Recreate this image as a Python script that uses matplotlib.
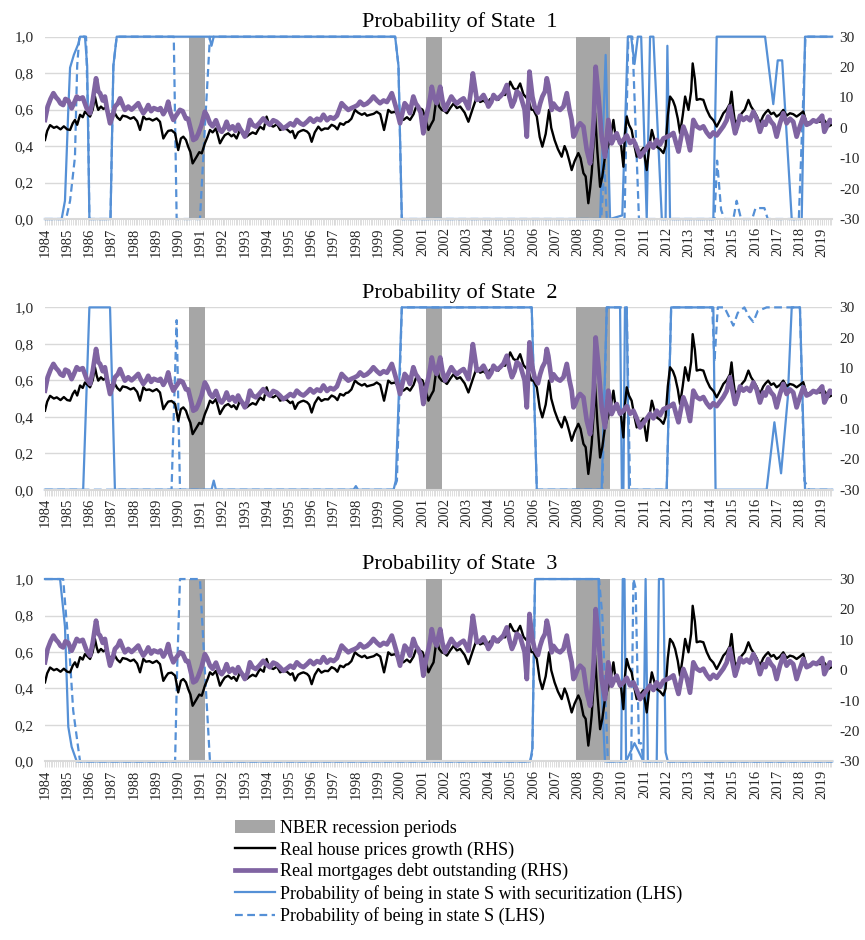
import numpy as np
import matplotlib
matplotlib.use("Agg")
import matplotlib.pyplot as plt
from matplotlib.patches import Patch
from matplotlib.lines import Line2D
from matplotlib.ticker import MultipleLocator

plt.rcParams['font.family'] = ['Liberation Serif', 'DejaVu Serif']

# Real house prices growth (RHS)
hp_years = [1984.00, 1984.10, 1984.23, 1984.40, 1984.53, 1984.70, 1984.85, 1985.00, 1985.13, 1985.25,
            1985.35, 1985.45, 1985.58, 1985.70, 1985.80, 1985.92, 1986.03, 1986.15, 1986.25, 1986.33,
            1986.40, 1986.52, 1986.63, 1986.75, 1986.85, 1987.00, 1987.15, 1987.25, 1987.38, 1987.50,
            1987.68, 1987.85, 1988.00, 1988.15, 1988.28, 1988.43, 1988.55, 1988.70, 1988.85, 1989.03,
            1989.18, 1989.33, 1989.45, 1989.55, 1989.70, 1989.86, 1990.00, 1990.12, 1990.23, 1990.35,
            1990.45, 1990.55, 1990.65, 1990.75, 1990.83, 1990.95, 1991.06, 1991.20, 1991.32, 1991.43,
            1991.55, 1991.70, 1991.88, 1992.00, 1992.10, 1992.25, 1992.40, 1992.50, 1992.63, 1992.78,
            1992.90, 1993.08, 1993.20, 1993.35, 1993.50, 1993.68, 1993.85, 1993.98, 1994.10, 1994.28,
            1994.45, 1994.59, 1994.75, 1994.90, 1995.05, 1995.15, 1995.26, 1995.40, 1995.52, 1995.64,
            1995.80, 1995.90, 1996.01, 1996.15, 1996.31, 1996.45, 1996.60, 1996.75, 1996.91, 1997.05,
            1997.17, 1997.29, 1997.45, 1997.55, 1997.66, 1997.80, 1997.96, 1998.10, 1998.27, 1998.40,
            1998.50, 1998.64, 1998.80, 1998.94, 1999.10, 1999.27, 1999.38, 1999.46, 1999.60, 1999.77,
            1999.90, 2000.02, 2000.14, 2000.30, 2000.44, 2000.60, 2000.74, 2000.88, 2001.00, 2001.10,
            2001.27, 2001.38, 2001.50, 2001.64, 2001.75, 2001.87, 2002.00, 2002.10, 2002.25, 2002.40,
            2002.55, 2002.70, 2002.90, 2003.07, 2003.25, 2003.45, 2003.60, 2003.75, 2003.90, 2004.05,
            2004.25, 2004.42, 2004.58, 2004.72, 2004.85, 2004.95, 2005.10, 2005.25, 2005.40, 2005.55,
            2005.77, 2005.90, 2006.00, 2006.15, 2006.28, 2006.40, 2006.55, 2006.70, 2006.80, 2006.95,
            2007.10, 2007.27, 2007.40, 2007.50, 2007.62, 2007.72, 2007.85, 2008.02, 2008.12, 2008.25,
            2008.35, 2008.47, 2008.55, 2008.62, 2008.70, 2008.77, 2008.88, 2009.00, 2009.10, 2009.22,
            2009.35, 2009.45, 2009.60, 2009.70, 2009.82, 2009.95, 2010.05, 2010.12, 2010.20, 2010.30,
            2010.42, 2010.55, 2010.65, 2010.80, 2010.95, 2011.10, 2011.22, 2011.33, 2011.45, 2011.55,
            2011.70, 2011.85, 2011.95, 2012.05, 2012.15, 2012.28, 2012.38, 2012.50, 2012.60, 2012.72,
            2012.83, 2012.98, 2013.10, 2013.17, 2013.27, 2013.35, 2013.50, 2013.65, 2013.80, 2013.95,
            2014.10, 2014.25, 2014.40, 2014.55, 2014.70, 2014.85, 2014.92, 2015.00, 2015.08, 2015.20,
            2015.38, 2015.52, 2015.68, 2015.80, 2015.90, 2016.05, 2016.20, 2016.35, 2016.45, 2016.57,
            2016.70, 2016.82, 2016.95, 2017.10, 2017.25, 2017.40, 2017.55, 2017.70, 2017.85, 2018.00,
            2018.15, 2018.30, 2018.50, 2018.70, 2018.90, 2019.10, 2019.30, 2019.42]
hp_growth = [-4.0, -1.0, 0.9, 0.0, 0.4, -0.5, 0.5, -0.5, -0.7, 1.5,
             2.6, 1.0, 4.3, 3.5, 5.3, 4.5, 3.7, 6.0, 10.3, 7.5,
             5.9, 7.0, 6.2, 6.8, 3.7, 4.5, 4.8, 3.5, 2.6, 4.0,
             3.7, 3.0, 3.5, 2.2, -0.7, 3.7, 2.8, 3.0, 2.4, 3.1,
             2.0, -3.5, -2.0, -1.0, -0.8, -1.8, -7.3, -3.5, -2.9, -4.0,
             -6.2, -8.0, -11.7, -10.5, -9.5, -8.0, -8.4, -5.1, -3.0, -0.7,
             -1.5, -0.2, -5.1, -3.5, -2.4, -1.8, -2.8, -2.2, -3.5, -0.7,
             -2.0, -2.9, -2.2, -1.5, -2.0, 0.4, -0.5, 3.7, 1.0, 0.4,
             1.2, -0.7, -0.2, -0.5, -1.5, -1.0, -3.4, -1.5, -1.0, -0.7,
             -1.2, -2.0, -4.6, -1.5, 0.4, -0.8, -0.2, -0.3, 1.0, 0.5,
             -0.5, 1.5, 1.0, 1.8, 2.0, 3.0, 5.9, 5.0, 4.3, 4.8,
             4.0, 4.3, 4.6, 5.3, 4.5, -0.7, 3.0, 5.9, 5.0, 5.3,
             4.0, 3.5, 2.6, 3.5, 2.6, 4.5, 7.5, 6.5, 6.0, 4.0,
             -0.7, 1.0, 2.6, 10.3, 7.0, 5.9, 5.5, 4.8, 6.5, 8.0,
             6.5, 7.0, 5.0, 2.0, 6.0, 10.3, 8.5, 9.0, 8.0, 9.5,
             10.0, 9.2, 11.0, 10.8, 12.5, 15.2, 13.0, 12.5, 14.6, 11.0,
             9.2, 6.0, 5.9, 3.7, -3.0, -6.2, -2.0, 5.9, 0.0, -4.0,
             -7.0, -9.5, -6.0, -7.8, -11.0, -13.9, -11.0, -8.3, -10.0, -14.9,
             -16.0, -24.8, -20.0, -14.9, -6.0, 4.9, -8.0, -19.4, -16.0, -9.5,
             -6.0, -4.0, 2.6, -3.0, -4.0, -6.0, -12.8, -2.0, 3.7, 1.0,
             -0.7, -6.0, -9.5, -8.0, -6.6, -13.9, -6.0, -0.7, -4.0, -6.2,
             -7.0, -8.3, -6.0, 4.0, 10.3, 9.0, 7.0, 3.0, -1.8, 4.0,
             10.3, 5.9, 12.0, 21.2, 16.0, 9.2, 9.5, 9.2, 6.0, 3.7,
             2.5, 0.4, 2.5, 4.8, 6.0, 8.0, 11.9, 6.0, 1.5, 2.5,
             4.8, 6.0, 9.2, 7.0, 5.9, 4.0, 1.5, 4.0, 5.0, 5.9,
             4.5, 5.0, 3.7, 4.5, 5.9, 4.0, 4.8, 4.5, 3.7, 4.5,
             5.4, 1.5, 2.0, 2.5, 2.0, 2.5, 0.5, 1.0]

# Real mortgages debt outstanding (RHS)
md_years = [1984.00, 1984.12, 1984.25, 1984.38, 1984.50, 1984.60, 1984.70, 1984.82, 1984.92, 1985.05,
            1985.20, 1985.30, 1985.43, 1985.55, 1985.70, 1985.88, 1986.03, 1986.15, 1986.30, 1986.40,
            1986.48, 1986.60, 1986.70, 1986.80, 1986.93, 1987.05, 1987.15, 1987.28, 1987.38, 1987.50,
            1987.60, 1987.75, 1987.90, 1988.05, 1988.20, 1988.30, 1988.43, 1988.55, 1988.65, 1988.78,
            1988.90, 1989.10, 1989.20, 1989.33, 1989.45, 1989.55, 1989.65, 1989.78, 1989.90, 1990.08,
            1990.20, 1990.35, 1990.45, 1990.58, 1990.68, 1990.80, 1990.90, 1991.05, 1991.20, 1991.30,
            1991.43, 1991.55, 1991.70, 1991.85, 1991.96, 1992.08, 1992.18, 1992.30, 1992.45, 1992.58,
            1992.70, 1992.78, 1992.90, 1993.00, 1993.12, 1993.23, 1993.35, 1993.50, 1993.65, 1993.83,
            1993.95, 1994.13, 1994.28, 1994.43, 1994.58, 1994.73, 1994.88, 1995.05, 1995.20, 1995.34,
            1995.50, 1995.64, 1995.80, 1995.94, 1996.10, 1996.25, 1996.40, 1996.54, 1996.70, 1996.85,
            1997.00, 1997.15, 1997.25, 1997.36, 1997.50, 1997.66, 1997.80, 1997.96, 1998.08, 1998.19,
            1998.35, 1998.50, 1998.65, 1998.79, 1998.95, 1999.09, 1999.25, 1999.40, 1999.52, 1999.62,
            1999.72, 1999.84, 1999.99, 2000.10, 2000.20, 2000.32, 2000.44, 2000.52, 2000.59, 2000.70,
            2000.80, 2000.92, 2001.04, 2001.15, 2001.27, 2001.35, 2001.42, 2001.52, 2001.64, 2001.72,
            2001.80, 2001.90, 2002.02, 2002.15, 2002.30, 2002.42, 2002.55, 2002.70, 2002.85, 2002.97,
            2003.07, 2003.18, 2003.27, 2003.37, 2003.45, 2003.60, 2003.75, 2003.87, 2003.97, 2004.10,
            2004.20, 2004.35, 2004.50, 2004.65, 2004.80, 2004.92, 2005.03, 2005.15, 2005.25, 2005.40,
            2005.50, 2005.60, 2005.70, 2005.82, 2005.95, 2006.05, 2006.20, 2006.30, 2006.40, 2006.52,
            2006.60, 2006.67, 2006.82, 2006.90, 2007.05, 2007.20, 2007.35, 2007.50, 2007.62, 2007.72,
            2007.80, 2007.87, 2008.00, 2008.10, 2008.25, 2008.40, 2008.55, 2008.65, 2008.72, 2008.80,
            2008.93, 2009.07, 2009.22, 2009.37, 2009.52, 2009.65, 2009.75, 2009.90, 2010.05, 2010.20,
            2010.35, 2010.50, 2010.65, 2010.80, 2010.95, 2011.10, 2011.25, 2011.40, 2011.55, 2011.70,
            2011.85, 2012.00, 2012.15, 2012.30, 2012.42, 2012.53, 2012.65, 2012.75, 2012.90, 2013.05,
            2013.20, 2013.35, 2013.50, 2013.65, 2013.80, 2013.95, 2014.10, 2014.25, 2014.40, 2014.55,
            2014.70, 2014.85, 2014.95, 2015.08, 2015.20, 2015.30, 2015.45, 2015.60, 2015.75, 2015.90,
            2016.05, 2016.20, 2016.35, 2016.45, 2016.57, 2016.70, 2016.82, 2016.95, 2017.10, 2017.25,
            2017.40, 2017.55, 2017.70, 2017.85, 2018.00, 2018.15, 2018.30, 2018.45, 2018.60, 2018.75,
            2018.90, 2019.00, 2019.10, 2019.22, 2019.35, 2019.45]
md_growth = [2.6, 7.0, 9.5, 11.4, 10.0, 9.2, 8.0, 7.5, 9.5, 9.0,
             6.4, 8.0, 10.3, 9.5, 10.0, 6.4, 4.8, 9.0, 16.3, 12.0,
             11.4, 9.0, 10.3, 6.0, 1.5, 4.0, 7.0, 8.0, 9.7, 7.5,
             5.9, 7.0, 6.0, 7.0, 8.1, 6.5, 4.8, 6.0, 7.5, 5.5,
             6.5, 5.9, 6.5, 4.5, 6.0, 8.6, 5.0, 2.6, 4.0, 5.9,
             5.5, 3.0, 3.0, -1.0, -4.0, -3.5, -2.0, 1.0, 5.3, 4.0,
             1.5, 0.5, 2.5, -0.5, -1.3, 0.0, 2.0, -0.5, 0.5, -1.0,
             1.0, -0.2, -1.5, -2.9, -1.0, 2.6, 1.0, 0.4, 1.5, 3.1,
             2.0, 1.0, 2.5, 2.0, 1.0, -0.2, 0.5, 1.5, 0.8, 2.6,
             1.5, 1.0, 2.0, 3.1, 2.0, 3.0, 2.5, 4.3, 2.5, 3.5,
             3.0, 4.0, 6.0, 8.1, 7.0, 5.9, 6.5, 7.0, 7.5, 8.6,
             7.5, 8.0, 9.0, 10.3, 9.0, 8.1, 9.0, 8.5, 10.0, 11.4,
             9.0, 5.9, 1.5, 5.0, 8.1, 7.0, 4.8, 8.0, 10.3, 8.0,
             7.0, 5.0, -1.8, 3.0, 7.0, 10.0, 13.5, 10.0, 8.1, 11.0,
             13.5, 9.0, 5.9, 8.0, 10.3, 9.0, 8.0, 9.0, 9.7, 8.0,
             6.4, 12.0, 17.9, 13.0, 9.2, 9.5, 10.8, 9.0, 7.0, 8.5,
             10.8, 9.5, 10.3, 11.5, 14.1, 10.0, 7.0, 9.0, 12.0, 11.0,
             8.5, 6.0, -2.9, 18.5, 10.3, 7.0, 5.0, 8.0, 10.3, 12.0,
             16.3, 14.0, 5.9, 8.0, 6.5, 5.9, 7.0, 11.4, 6.0, 2.6,
             -2.9, -2.0, 0.5, 1.5, 0.4, -7.3, -11.7, -4.0, 3.7, 20.1,
             10.3, -2.9, -9.5, 2.6, -5.1, -3.0, -1.8, -5.0, -4.0, -2.5,
             -5.0, -4.0, -6.5, -9.5, -8.0, -6.6, -5.0, -6.5, -4.0, -5.5,
             -3.5, -3.0, -2.5, -1.7, -5.0, -7.8, -3.0, 0.4, -2.5, -7.4,
             2.6, 0.5, -0.2, 0.5, -1.5, -2.9, -1.5, -2.5, -1.0, 0.5,
             2.5, 7.0, 3.0, -1.8, 1.0, 4.0, 2.6, 3.5, 2.5, 5.3,
             3.0, -1.3, 2.0, 1.0, 3.7, 2.0, 1.0, -2.9, 1.5, 4.8,
             1.5, 3.0, 2.0, -2.9, 0.5, 3.7, 1.0, 1.5, 2.5, 2.0,
             3.1, 4.0, -1.3, 0.5, 2.6, 2.0]

# Probability of being in state S with securitization (solid) / without (dashed), per state
sec1_years = [1984.0, 1984.75, 1984.9, 1985.05, 1985.13, 1985.3, 1985.5, 1985.58, 1985.8, 1985.9, 1986.0,
              1986.95, 1987.08, 1987.23, 1991.4, 1991.5, 1991.6, 1999.77, 1999.92, 2000.07, 2009.0,
              2009.25, 2009.45, 2010.0, 2010.25, 2010.4, 2010.55, 2010.7, 2010.85, 2011.1, 2011.25,
              2011.4, 2011.78, 2011.95, 2012.03, 2012.15, 2014.1, 2014.25, 2016.43, 2016.8, 2017.0,
              2017.2, 2017.63, 2018.08, 2018.23, 2019.45]
sec1_prob = [0, 0, 0.1, 0.6, 0.83, 0.9, 0.96, 1.0, 1.0, 0.84, 0,
             0, 0.84, 1.0, 1.0, 0.95, 1.0, 1.0, 0.84, 0, 0,
             0.9, 0, 0.02, 1.0, 1.0, 0.85, 1.0, 1.0, 0, 1.0,
             1.0, 0, 0, 0.95, 0, 0, 1.0, 1.0, 0.63, 0.87,
             0.87, 0, 0, 1.0, 1.0]
nosec1_years = [1984.0, 1984.95, 1985.13, 1985.35, 1985.45, 1985.55, 1985.85, 1985.95, 1986.0, 1986.95,
                1987.08, 1987.23, 1989.8, 1989.93, 1990.98, 1991.2, 1991.43, 1999.77, 1999.92, 2000.07,
                2009.05, 2009.2, 2009.3, 2010.1, 2010.27, 2010.45, 2010.75, 2014.15, 2014.27, 2014.45,
                2014.6, 2015.0, 2015.15, 2015.35, 2015.85, 2016.0, 2016.4, 2016.55, 2017.95, 2018.25,
                2019.45]
nosec1_prob = [0, 0, 0.1, 0.34, 0.84, 1.0, 1.0, 0.5, 0, 0,
               0.84, 1.0, 1.0, 0, 0, 0.5, 1.0, 1.0, 0.84, 0,
               0, 0.3, 0, 0, 1.0, 1.0, 0, 0, 0.32, 0.05,
               0, 0, 0.1, 0, 0, 0.06, 0.06, 0, 0, 1.0,
               1.0]

sec2_years = [1984.0, 1985.72, 1986.0, 1986.93, 1987.15, 1991.5, 1991.6, 1991.7, 1997.9, 1998.0,
              1998.1, 1999.7, 1999.8, 1999.9, 2000.07, 2005.92, 2006.15, 2009.07, 2009.3, 2009.9,
              2009.98, 2010.05, 2010.12, 2010.2, 2010.3, 2012.0, 2012.2, 2014.1, 2014.2, 2016.5,
              2016.85, 2017.15, 2017.45, 2017.63, 2018.0, 2018.23, 2019.45]
sec2_prob = [0, 0, 1.0, 1.0, 0, 0, 0.05, 0, 0, 0.02,
             0, 0, 0.05, 0.4, 1.0, 1.0, 0, 0, 1.0, 1.0,
             0, 0, 1.0, 1.0, 0, 0, 1.0, 1.0, 0, 0,
             0.37, 0.09, 0.5, 1.0, 1.0, 0, 0]
nosec2_years = [1984.0, 1989.7, 1989.93, 1990.08, 1999.7, 1999.85, 2000.07, 2005.92, 2006.15, 2009.1,
                2009.3, 2010.2, 2010.35, 2012.0, 2012.2, 2014.05, 2014.15, 2014.3, 2014.6, 2014.8,
                2015.0, 2015.2, 2015.5, 2015.7, 2015.9, 2016.1, 2016.5, 2018.0, 2018.2, 2018.4,
                2019.45]
nosec2_prob = [0, 0, 0.93, 0, 0, 0.05, 1.0, 1.0, 0, 0,
               1.0, 1.0, 0, 0, 1.0, 1.0, 0.7, 1.0, 1.0, 0.95,
               0.9, 0.97, 1.0, 0.95, 0.92, 0.98, 1.0, 1.0, 0.05, 0,
               0]

sec3_years = [1984.0, 1984.68, 1984.9, 1985.05, 1985.2, 1985.43, 2005.85, 2005.95, 2006.07, 2008.93,
              2009.0, 2009.22, 2009.95, 2010.02, 2010.1, 2010.17, 2010.55, 2010.75, 2010.95, 2011.05,
              2011.15, 2011.55, 2011.65, 2011.85, 2011.95, 2012.05, 2019.45]
sec3_prob = [1.0, 1.0, 0.74, 0.19, 0.08, 0, 0, 0.07, 1.0, 1.0,
             0.6, 0, 0, 1.0, 1.0, 0, 0.1, 0.05, 0, 1.0,
             0, 0, 1.0, 1.0, 0.05, 0, 0]
nosec3_years = [1984.0, 1984.82, 1984.95, 1985.13, 1985.27, 1985.5, 1985.58, 1989.86, 1989.95, 1990.08,
                1990.98, 1991.2, 1991.43, 2005.85, 2005.95, 2006.07, 2008.95, 2009.1, 2009.35, 2010.4,
                2010.5, 2010.6, 2010.75, 2010.85, 2010.95, 2019.45]
nosec3_prob = [1.0, 1.0, 0.8, 0.55, 0.28, 0.07, 0, 0, 0.5, 1.0,
               1.0, 0.5, 0, 0, 0.05, 1.0, 1.0, 0.8, 0, 0,
               1.0, 0.95, 0.1, 0.1, 0, 0]

# NBER recessions (start, end)
recessions = [(1990.50, 1991.21), (2001.17, 2001.88), (2007.92, 2009.46)]

panel_titles = ['Probability of State  1', 'Probability of State  2', 'Probability of State  3']
sec_years = [sec1_years, sec2_years, sec3_years]
sec_probs = [sec1_prob, sec2_prob, sec3_prob]
nosec_years = [nosec1_years, nosec2_years, nosec3_years]
nosec_probs = [nosec1_prob, nosec2_prob, nosec3_prob]

year_ticks = list(range(1984, 2020))
prob_ticks = [0.0, 0.2, 0.4, 0.6, 0.8, 1.0]
rhs_ticks = [-30, -20, -10, 0, 10, 20, 30]

BLUE = '#5590D6'
PURPLE = '#8064A2'
GRAY = '#A6A6A6'
GRID = '#D9D9D9'
TXT = '#262626'
DASH = (0, (3.5, 2))

fig = plt.figure(figsize=(8.65, 9.4), dpi=100)
panel_bottoms = [0.767, 0.479, 0.190]

for i in range(3):
    ax = fig.add_axes([0.052, panel_bottoms[i], 0.910, 0.194])
    ax2 = ax.twinx()

    for a, b in recessions:
        ax.axvspan(a, b, color=GRAY, lw=0, zorder=1)

    ax.plot(sec_years[i], sec_probs[i], color=BLUE, lw=1.6, zorder=2, clip_on=False)
    ax.plot(nosec_years[i], nosec_probs[i], color=BLUE, lw=1.6, ls=DASH, zorder=2, clip_on=False)

    ax2.plot(hp_years, hp_growth, color='black', lw=1.7, zorder=3)
    ax2.plot(md_years, md_growth, color=PURPLE, lw=3.4, zorder=4)

    ax.set_xlim(1984.0, 2019.45)
    ax.set_ylim(0, 1)
    ax2.set_ylim(-30, 30)

    ax.set_yticks(prob_ticks)
    ax.set_yticklabels([f"{v:.1f}".replace('.', ',') for v in prob_ticks])
    ax2.set_yticks(rhs_ticks)
    ax2.set_yticklabels([str(v) for v in rhs_ticks])

    ax.set_xticks(year_ticks)
    ax.set_xticklabels([str(y) for y in year_ticks], rotation=90)
    ax.xaxis.set_minor_locator(MultipleLocator(1 / 12))

    ax.grid(axis='y', color=GRID, lw=1.0, zorder=0)
    ax.set_axisbelow(True)

    for a in (ax, ax2):
        for s in ('top', 'left', 'right'):
            a.spines[s].set_visible(False)
    ax.spines['bottom'].set_color(GRID)
    ax.spines['bottom'].set_linewidth(1.5)
    ax2.spines['bottom'].set_visible(False)

    ax.tick_params(axis='y', length=0, labelsize=11, colors=TXT, pad=8)
    ax2.tick_params(axis='y', length=0, labelsize=11, colors=TXT, pad=5)
    ax.tick_params(axis='x', which='major', length=4, color=GRID, labelsize=10.5,
                   labelcolor=TXT, pad=2)
    ax.tick_params(axis='x', which='minor', length=4, color=GRID, width=0.6)

    ax.set_title(panel_titles[i], fontsize=16, x=0.527, pad=7)

handles = [
    Patch(facecolor=GRAY, edgecolor='none'),
    Line2D([0], [0], color='black', lw=1.7),
    Line2D([0], [0], color=PURPLE, lw=3.4),
    Line2D([0], [0], color=BLUE, lw=1.6),
    Line2D([0], [0], color=BLUE, lw=1.6, ls=DASH),
]
labels = ['NBER recession periods', 'Real house prices growth (RHS)',
          'Real mortgages debt outstanding (RHS)',
          'Probability of being in state S with securitization (LHS)',
          'Probability of being in state S (LHS)']
fig.legend(handles, labels, loc='upper left', bbox_to_anchor=(0.272, 0.128),
           frameon=False, fontsize=13, handlelength=2.2, handletextpad=0.3,
           labelspacing=0.25, borderpad=0, borderaxespad=0)

fig.savefig('out.png', dpi=100)
